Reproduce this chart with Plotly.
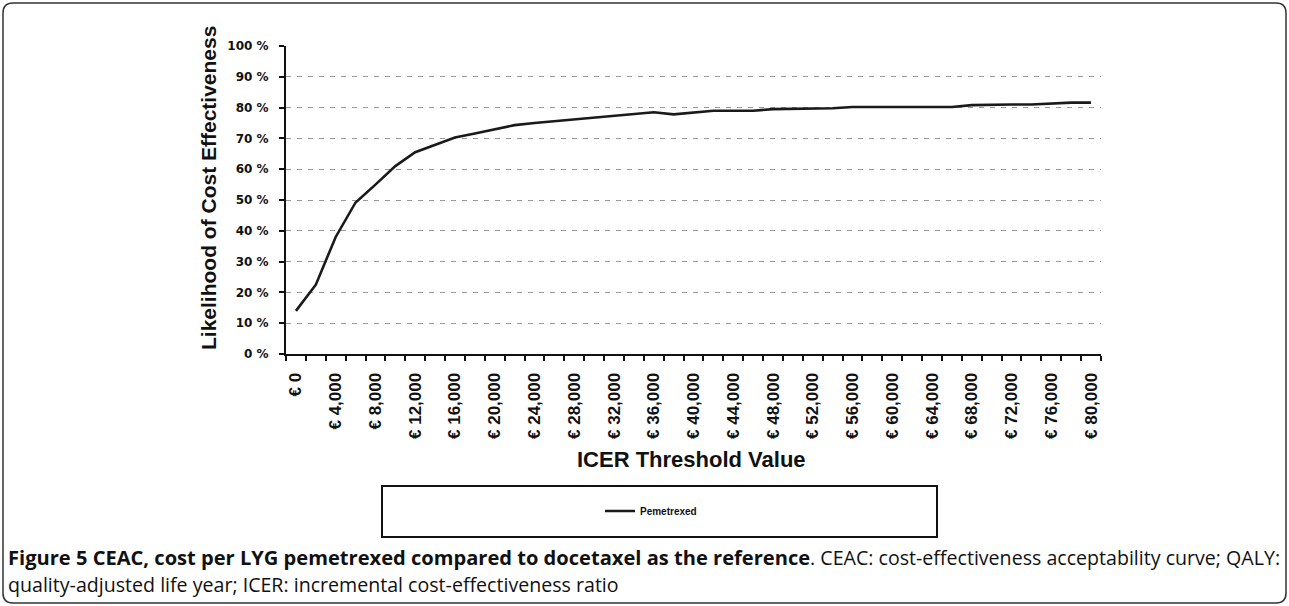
import plotly.graph_objects as go

# ---- data ----
thresholds = [0, 2000, 4000, 6000, 8000, 10000, 12000, 14000, 16000, 18000,
              20000, 22000, 24000, 26000, 28000, 30000, 32000, 34000, 36000, 38000,
              40000, 42000, 44000, 46000, 48000, 50000, 52000, 54000, 56000, 58000,
              60000, 62000, 64000, 66000, 68000, 70000, 72000, 74000, 76000, 78000,
              80000]
pemetrexed = [0.140, 0.225, 0.380, 0.492, 0.550, 0.610, 0.655, 0.680, 0.703, 0.716,
              0.730, 0.743, 0.750, 0.756, 0.761, 0.768, 0.775, 0.780, 0.785, 0.778,
              0.785, 0.790, 0.790, 0.790, 0.795, 0.796, 0.796, 0.798, 0.802, 0.802,
              0.802, 0.802, 0.802, 0.802, 0.808, 0.810, 0.810, 0.810, 0.814, 0.816,
              0.816]
x_tick_values = [0, 4000, 8000, 12000, 16000, 20000, 24000, 28000, 32000, 36000, 40000,
                 44000, 48000, 52000, 56000, 60000, 64000, 68000, 72000, 76000, 80000]
x_tick_labels = ["€ 0", "€ 4,000", "€ 8,000", "€ 12,000", "€ 16,000", "€ 20,000",
                 "€ 24,000", "€ 28,000", "€ 32,000", "€ 36,000", "€ 40,000", "€ 44,000",
                 "€ 48,000", "€ 52,000", "€ 56,000", "€ 60,000", "€ 64,000", "€ 68,000",
                 "€ 72,000", "€ 76,000", "€ 80,000"]
y_tick_values = [0, 0.1, 0.2, 0.3, 0.4, 0.5, 0.6, 0.7, 0.8, 0.9, 1.0]
y_tick_labels = ["0 %", "10 %", "20 %", "30 %", "40 %", "50 %", "60 %", "70 %",
                 "80 %", "90 %", "100 %"]

# ---- layout geometry (pixels) ----
W, H = 1289, 606
L, R, T, B = 286, 1101, 46, 354
PW, PH = R - L, B - T


def px(x):
    return (x - L) / PW


def py(y):
    return (B - y) / PH


fig = go.Figure()
fig.add_trace(go.Scatter(
    x=thresholds, y=pemetrexed, mode="lines", name="Pemetrexed",
    line=dict(color="#1a1a1a", width=2.6),
))

fig.update_layout(
    width=W, height=H,
    margin=dict(l=L, r=W - R, t=T, b=H - B, pad=0),
    paper_bgcolor="white", plot_bgcolor="white",
    showlegend=True,
    legend=dict(
        x=px(600), y=py(511), xanchor="left", yanchor="middle",
        bgcolor="rgba(0,0,0,0)", borderwidth=0,
        font=dict(family="Liberation Sans", size=10, color="#111", weight="bold"),
        itemwidth=30,
    ),
    font=dict(family="Liberation Sans", color="#111"),
)

fig.update_xaxes(
    range=[-1000, 81000],
    tickmode="array", tickvals=x_tick_values, ticktext=x_tick_labels,
    tickangle=-90, ticks="",
    tickfont=dict(family="Liberation Sans", size=17, color="#111", weight="bold"),
    ticklabelstandoff=10,
    showgrid=False, zeroline=False,
    showline=True, linecolor="#111", linewidth=2,
    minor=dict(tickmode="linear", tick0=-1000, dtick=2000, ticks="outside",
               ticklen=5, tickcolor="#111", tickwidth=1.5, showgrid=False),
)

fig.update_yaxes(
    range=[0, 1.0],
    tickmode="array", tickvals=y_tick_values, ticktext=y_tick_labels,
    ticks="outside", ticklen=5, tickcolor="#111", tickwidth=1.5,
    tickfont=dict(family="DejaVu Sans", size=12, color="#111", weight="bold"),
    ticklabelstandoff=8,
    showgrid=True, gridcolor="#9a9a9a", gridwidth=1, griddash="5px,6px",
    zeroline=False,
    showline=True, linecolor="#111", linewidth=2,
)

annotations = [
    dict(text="<b>Likelihood of Cost Effectiveness</b>", x=px(208), y=py(188),
         xref="paper", yref="paper", textangle=-90, showarrow=False,
         xanchor="center", yanchor="middle",
         font=dict(family="Liberation Sans", size=21, color="#111")),
    dict(text="<b>ICER Threshold Value</b>", x=px(691), y=py(459),
         xref="paper", yref="paper", showarrow=False,
         xanchor="center", yanchor="middle",
         font=dict(family="Liberation Sans", size=22, color="#111")),
    dict(text="<span style=\"font-size:20.1px\"><b>Figure 5 CEAC, cost per LYG pemetrexed "
              "compared to docetaxel as the reference</b></span>. "
              "CEAC: cost-effectiveness acceptability curve; QALY:",
         x=px(6), y=py(557), xref="paper", yref="paper", showarrow=False,
         xanchor="left", yanchor="middle",
         font=dict(family="Open Sans", size=19.6, color="#111")),
    dict(text="quality-adjusted life year; ICER: incremental cost-effectiveness ratio",
         x=px(6), y=py(584), xref="paper", yref="paper", showarrow=False,
         xanchor="left", yanchor="middle",
         font=dict(family="Open Sans", size=19.6, color="#111")),
]
fig.update_layout(annotations=annotations)

# legend box and outer rounded frame
x0, x1, y0, y1 = px(3), px(1286), py(3), py(603)
rx = 10 / PW
ry = 10 / PH
frame_path = (
    f"M {x0 + rx},{y0} L {x1 - rx},{y0} Q {x1},{y0} {x1},{y0 - ry} "
    f"L {x1},{y1 + ry} Q {x1},{y1} {x1 - rx},{y1} "
    f"L {x0 + rx},{y1} Q {x0},{y1} {x0},{y1 + ry} "
    f"L {x0},{y0 - ry} Q {x0},{y0} {x0 + rx},{y0} Z"
)
fig.update_layout(shapes=[
    dict(type="rect", xref="paper", yref="paper",
         x0=px(382), x1=px(937), y0=py(486), y1=py(537),
         line=dict(color="#111", width=2), fillcolor="rgba(0,0,0,0)"),
    dict(type="path", xref="paper", yref="paper", path=frame_path,
         line=dict(color="#333", width=1.5), fillcolor="rgba(0,0,0,0)"),
])

fig.write_html("out.html",
               config={"displayModeBar": False},
               post_script="document.body.style.margin='0';document.body.style.overflow='hidden';")
